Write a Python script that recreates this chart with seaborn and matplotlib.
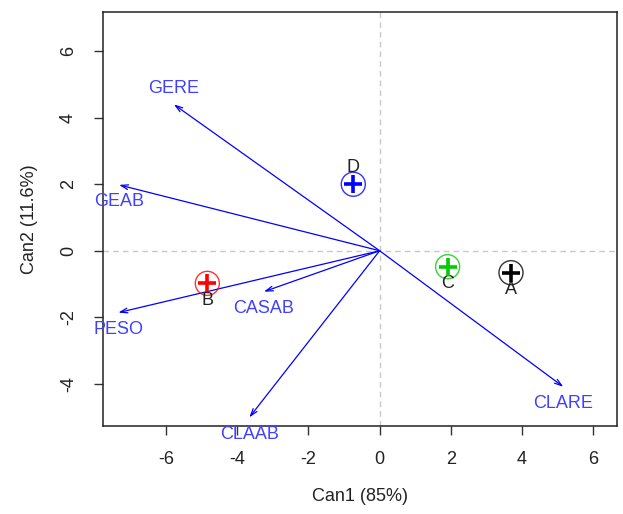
import matplotlib
matplotlib.use("Agg")
import matplotlib.pyplot as plt
import seaborn as sns
import pandas as pd

# Group centroids on the canonical axes
groups = ["A", "B", "C", "D"]
can1 = [3.69, -4.84, 1.91, -0.74]
can2 = [-0.66, -0.98, -0.48, 2.00]
group_colors = ["black", "red", "#00cc00", "blue"]

# Structure vectors for the original variables
variables = ["GERE", "GEAB", "PESO", "CASAB", "CLAAB", "CLARE"]
vec_x = [-5.78, -7.32, -7.34, -3.25, -3.66, 5.16]
vec_y = [4.40, 1.98, -1.86, -1.23, -5.01, -4.09]

x_ticks = [-6, -4, -2, 0, 2, 4, 6]
y_ticks = [-4, -2, 0, 2, 4, 6]
x_label = "Can1 (85%)"
y_label = "Can2 (11.6%)"

sns.set_style("ticks")
plt.rcParams["font.family"] = ["Liberation Sans", "DejaVu Sans"]
plt.rcParams["font.size"] = 13
plt.rcParams["axes.unicode_minus"] = False

fig = plt.figure(figsize=(6.23, 5.14), dpi=100)
ax = fig.add_axes([0.1648, 0.1718, 0.8251, 0.8043])

ax.set_xlim(-7.78, 6.66)
ax.set_ylim(-5.26, 7.17)

# reference lines through the origin
ax.axhline(0, color="#c8c8c8", lw=1, ls=(0, (4, 3)), zorder=0)
ax.axvline(0, color="#c8c8c8", lw=1, ls=(0, (4, 3)), zorder=0)

# variable vectors
for name, vx, vy in zip(variables, vec_x, vec_y):
    ax.annotate("", xy=(vx, vy), xytext=(0, 0),
                arrowprops=dict(arrowstyle="->,head_length=0.4,head_width=0.13",
                                color="blue", lw=0.9, shrinkA=0, shrinkB=0))
    dy = 16 if vy > 3 else -17
    ax.annotate(name, xy=(vx, vy), xytext=(0, dy), textcoords="offset pixels",
                ha="center", va="center", color="#4040ff", fontsize=13,
                annotation_clip=False)

df = pd.DataFrame({"Can1": can1, "Can2": can2, "group": groups})
palette = dict(zip(groups, group_colors))

# centroid circles and crosses
sns.scatterplot(data=df, x="Can1", y="Can2", hue="group", palette=palette,
                marker="o", s=300, facecolors="none", linewidth=1.0,
                legend=False, ax=ax, zorder=3)
for coll in ax.collections[-1:]:
    coll.set_facecolor("none")
    coll.set_edgecolor(group_colors)
    coll.set_alpha(0.8)
sns.scatterplot(data=df, x="Can1", y="Can2", hue="group", palette=palette,
                marker="+", s=170, linewidth=2.6, legend=False, ax=ax, zorder=4)

for g, x, y in zip(groups, can1, can2):
    dy = 17 if y > 1 else -17
    ax.annotate(g, xy=(x, y), xytext=(0, dy), textcoords="offset pixels",
                ha="center", va="center", color="#222222", fontsize=13)

ax.set_xticks(x_ticks)
ax.set_yticks(y_ticks)
ax.set_yticklabels([str(t) for t in y_ticks], rotation=90, va="center")
ax.tick_params(axis="both", direction="out", length=6.5, width=1, pad=12,
               labelsize=13, color="#333333", labelcolor="#222222")
for sp in ax.spines.values():
    sp.set_visible(True)
    sp.set_linewidth(1.1)
    sp.set_color("#222222")

ax.set_xlabel(x_label, fontsize=13, labelpad=14, color="#222222")
ax.set_ylabel(y_label, fontsize=13, labelpad=16, color="#222222")

fig.savefig("out.png", dpi=100)
